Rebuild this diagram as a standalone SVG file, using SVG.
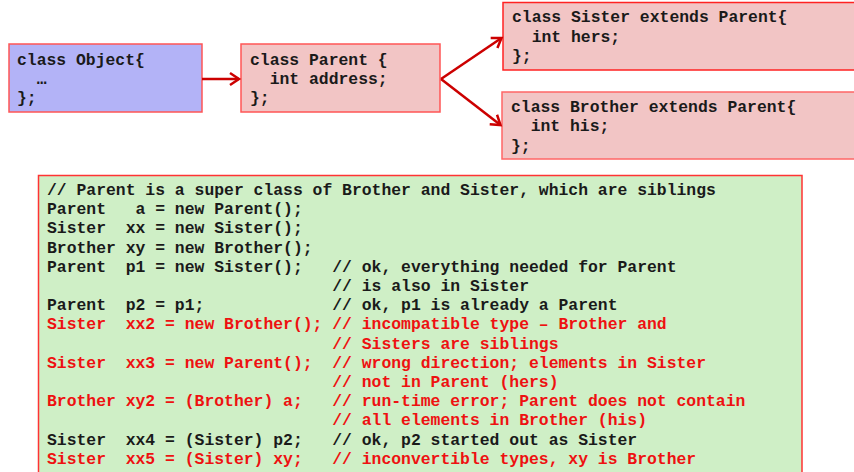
<svg xmlns="http://www.w3.org/2000/svg" width="854" height="472" viewBox="0 0 854 472">
<style>
.code{font-family:"Liberation Mono","Courier New",monospace;font-weight:bold;font-size:16.4px;fill:#1a1a1a}
.red{fill:#ee1111}
.box{stroke-width:1.5}
.conn{stroke:#cc0000;stroke-width:2.5;fill:none}
</style>
<defs>
<marker id="arr" markerUnits="userSpaceOnUse" markerWidth="16" markerHeight="18" viewBox="-13 -9 16 18" refX="0" refY="0" orient="auto">
<path d="M-9,-6 L0,0 L-9,6" fill="none" stroke="#cc0000" stroke-width="2.5"/>
</marker>
</defs>
<rect width="854" height="472" fill="#ffffff"/>
<g id="object">
<rect class="box" x="9" y="44" width="193" height="68" fill="#b3b3f7" stroke="#f55"/>
<text class="code" xml:space="preserve"><tspan x="17" y="65">class Object{</tspan><tspan x="17" y="84">  …</tspan><tspan x="17" y="103">};</tspan></text>
</g>
<g id="parent">
<rect class="box" x="241" y="44" width="199" height="68" fill="#f2c5c5" stroke="#f55"/>
<text class="code" xml:space="preserve"><tspan x="250" y="65">class Parent {</tspan><tspan x="250" y="84">  int address;</tspan><tspan x="250" y="103">};</tspan></text>
</g>
<g id="sister">
<rect class="box" x="503" y="2.5" width="360" height="67.5" fill="#f2c5c5" stroke="#f22"/>
<text class="code" xml:space="preserve"><tspan x="512" y="22">class Sister extends Parent{</tspan><tspan x="512" y="41.5">  int hers;</tspan><tspan x="512" y="61">};</tspan></text>
</g>
<g id="brother">
<rect class="box" x="502" y="92" width="360" height="67" fill="#f2c5c5" stroke="#f66"/>
<text class="code" xml:space="preserve"><tspan x="511" y="112">class Brother extends Parent{</tspan><tspan x="511" y="131">  int his;</tspan><tspan x="511" y="151">};</tspan></text>
</g>
<g id="connectors">
<path class="conn" d="M202 79 L239 79" marker-end="url(#arr)"/>
<path class="conn" d="M441 79 L501.5 38" marker-end="url(#arr)"/>
<path class="conn" d="M441 79 L500.5 125" marker-end="url(#arr)"/>
</g>
<g id="code">
<rect class="box" x="38.5" y="175.5" width="763.5" height="310" fill="#cfefc6" stroke="#f33"/>
<text class="code" xml:space="preserve">
<tspan x="47" y="195">// Parent is a super class of Brother and Sister, which are siblings</tspan>
<tspan x="47" y="214.2">Parent   a = new Parent();</tspan>
<tspan x="47" y="233.4">Sister  xx = new Sister();</tspan>
<tspan x="47" y="252.6">Brother xy = new Brother();</tspan>
<tspan x="47" y="271.8">Parent  p1 = new Sister();   // ok, everything needed for Parent</tspan>
<tspan x="47" y="291">                             // is also in Sister</tspan>
<tspan x="47" y="310.2">Parent  p2 = p1;             // ok, p1 is already a Parent</tspan>
<tspan x="47" y="329.4" class="red">Sister  xx2 = new Brother(); // incompatible type – Brother and</tspan>
<tspan x="47" y="348.6" class="red">                             // Sisters are siblings</tspan>
<tspan x="47" y="367.8" class="red">Sister  xx3 = new Parent();  // wrong direction; elements in Sister</tspan>
<tspan x="47" y="387" class="red">                             // not in Parent (hers)</tspan>
<tspan x="47" y="406.2" class="red">Brother xy2 = (Brother) a;   // run-time error; Parent does not contain</tspan>
<tspan x="47" y="425.4" class="red">                             // all elements in Brother (his)</tspan>
<tspan x="47" y="444.6">Sister  xx4 = (Sister) p2;   // ok, p2 started out as Sister</tspan>
<tspan x="47" y="463.8" class="red">Sister  xx5 = (Sister) xy;   // inconvertible types, xy is Brother</tspan>
</text>
</g>
</svg>
